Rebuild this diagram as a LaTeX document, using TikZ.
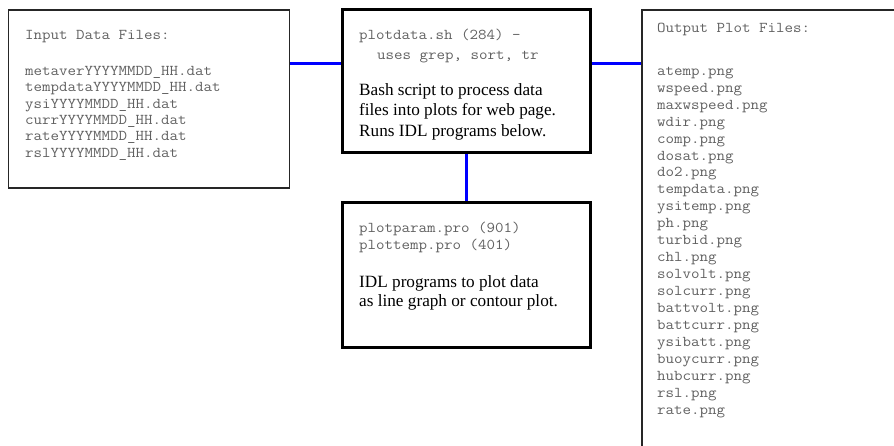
\documentclass[tikz,border=0pt]{standalone}
\usepackage{fontspec}
\setmainfont{Liberation Serif}
\newfontfamily\codefont{Latin Modern Mono}[FakeStretch=1.1]
\begin{document}
\begin{tikzpicture}[x=1pt,y=-1pt,
  thinbox/.style={draw=black!85,line width=1.6pt,fill=white,inner sep=0pt},
  thickbox/.style={draw=black,line width=3pt,fill=white,inner sep=0pt},
  code/.style={anchor=mid west,inner sep=0pt,text=black!62,font=\codefont\fontsize{15}{16}\selectfont},
  prose/.style={anchor=mid west,inner sep=0pt,text=black,font=\fontsize{17.2}{19}\selectfont},
  link/.style={draw=blue,line width=3pt}]
\clip (0,0) rectangle (894,446);
\fill[white] (0,0) rectangle (894,446);

% boxes
\node[thinbox,minimum width=281pt,minimum height=178pt] (inbox) at (149,99) {};
\node[thickbox,minimum width=248pt,minimum height=143pt] (script) at (466,81.5) {};
\node[thickbox,minimum width=248pt,minimum height=144pt] (progs) at (466,275) {};
\node[thinbox,minimum width=300pt,minimum height=500pt] (outbox) at (792,260) {};

% connectors
\coordinate (jy) at (0,64);
\draw[link] (inbox.east |- jy) -- (script.west |- jy);
\draw[link] (script.east |- jy) -- (outbox.west |- jy);
\draw[link] (script.south) -- (progs.north);

% input files
\node[code] (inT) at (25,37) {Input Data Files:};
\node[code] (in1) at (25,73) {metaverYYYYMMDD\_HH.dat};
\node[code] (in2) at (25,89.4) {tempdataYYYYMMDD\_HH.dat};
\node[code] (in3) at (25,105.8) {ysiYYYYMMDD\_HH.dat};
\node[code] (in4) at (25,122.2) {currYYYYMMDD\_HH.dat};
\node[code] (in5) at (25,138.6) {rateYYYYMMDD\_HH.dat};
\node[code] (in6) at (25,155) {rslYYYYMMDD\_HH.dat};

% script box text
\node[code] (sc1) at (359,37) {plotdata.sh (284) -};
\node[code] (sc2) at (377,57) {uses grep, sort, tr};
\node[prose] (sc3) at (359,93) {Bash script to process data};
\node[prose] (sc4) at (359,113.5) {files into plots for web page.};
\node[prose] (sc5) at (359,134) {Runs IDL programs below.};

% IDL programs box text
\node[code] (pr1) at (359,230) {plotparam.pro (901)};
\node[code] (pr2) at (359,247) {plottemp.pro (401)};
\node[prose] (pr3) at (359,285) {IDL programs to plot data};
\node[prose] (pr4) at (359,304) {as line graph or contour plot.};

% output files
\node[code] (outT) at (657,30) {Output Plot Files:};
\foreach \f [count=\i from 0] in {atemp,wspeed,maxwspeed,wdir,comp,dosat,do2,tempdata,ysitemp,ph,turbid,chl,solvolt,solcurr,battvolt,battcurr,ysibatt,buoycurr,hubcurr,rsl,rate}
  \node[code] (out\i) at (657,73+16.95*\i) {\f.png};
\end{tikzpicture}
\end{document}
